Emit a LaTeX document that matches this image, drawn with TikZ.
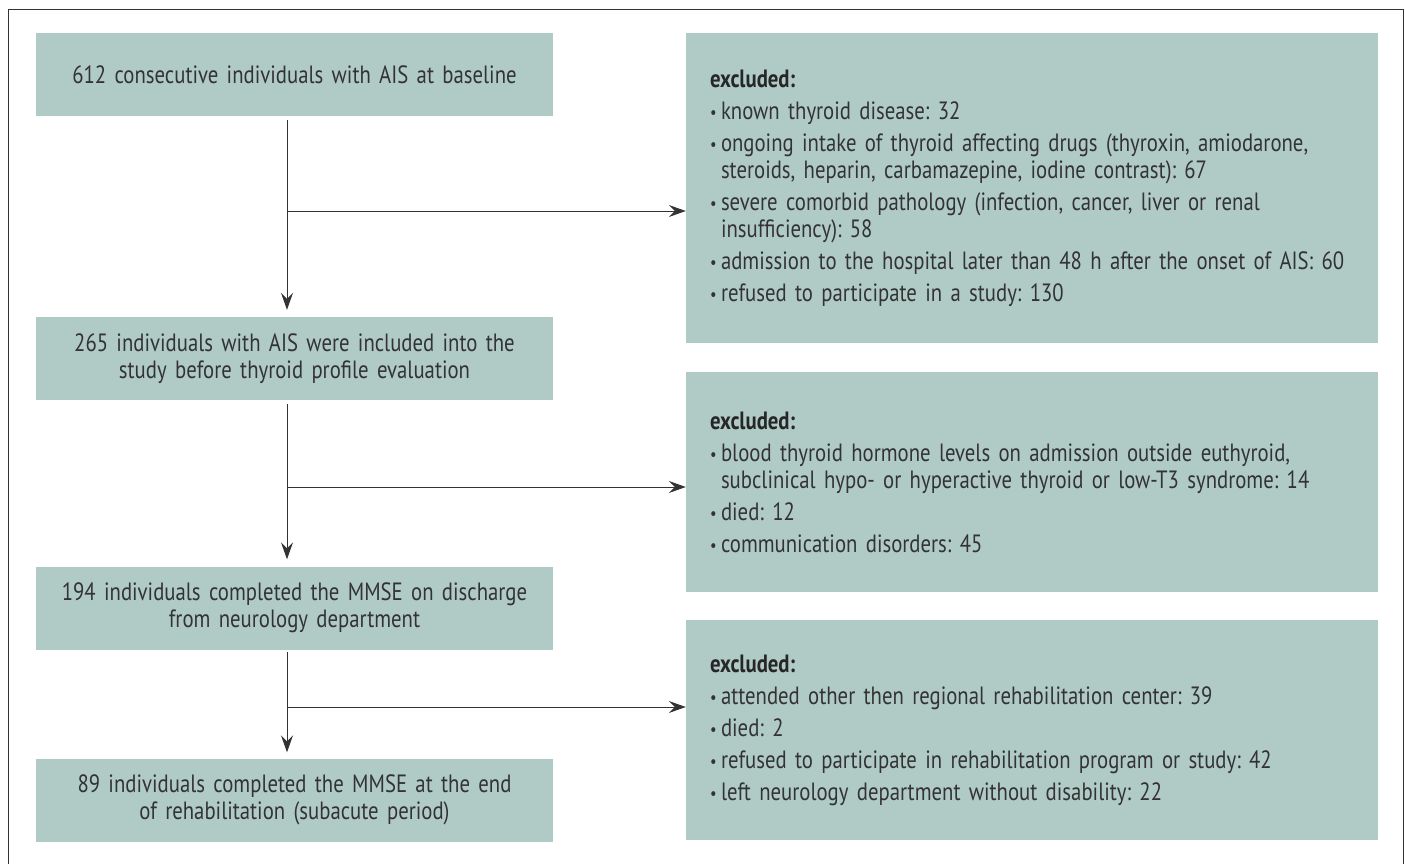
\documentclass[tikz,border=0pt]{standalone}
\usepackage{fontspec}
\setmainfont{PT Sans}[FakeStretch=0.83]
\usetikzlibrary{arrows.meta}
\definecolor{boxfill}{HTML}{B0CBC6}
\definecolor{inkgray}{HTML}{333333}
\newcommand{\exitem}[1]{\par\hangindent=11pt\hangafter=1\noindent\makebox[11pt][l]{\raisebox{1pt}{\scalebox{0.7}{\textbullet}}}#1}
\newcommand{\boxfont}{\fontsize{25}{27}\selectfont\frenchspacing}
\tikzset{
  stage/.style={fill=boxfill, minimum width=517pt, minimum height=83pt, inner sep=0pt,
    text width=500pt, align=center, text=inkgray, font=\boxfont},
  exclbox/.style={fill=boxfill, minimum width=692pt, inner xsep=24pt, inner ysep=0pt,
    text width=644pt, align=left, text=inkgray,
    font=\boxfont\setlength{\parskip}{5pt}},
  arr/.style={draw=inkgray, line width=1pt, -{Stealth[length=17pt,width=12pt,inset=6pt]}},
}
\begin{document}
\begin{tikzpicture}[x=1pt,y=-1pt]
    \useasboundingbox (0,0) rectangle (1405,864);
    \draw[inkgray, line width=1pt] (8,866) -- (8,10) -- (1403,10) -- (1403,866);

    \node[stage] (b1) at (294.5,74.5) {612 consecutive individuals with AIS at baseline};
    \node[stage] (b2) at (294.5,358.5) {265 individuals with AIS were included into the\\ study before thyroid profile evaluation};
    \node[stage] (b3) at (294.5,608) {194 individuals completed the MMSE on discharge\\ from neurology department};
    \node[stage] (b4) at (294.5,800) {89 individuals completed the MMSE at the end\\ of rehabilitation (subacute period)};

    \node[exclbox, minimum height=310pt] (r1) at (1032,188) {{\bfseries\color{black!85}excluded:}
        \exitem{known thyroid disease: 32}
        \exitem{ongoing intake of thyroid affecting drugs (thyroxin, amiodarone,\newline steroids, heparin, carbamazepine, iodine contrast): 67}
        \exitem{severe comorbid pathology (infection, cancer, liver or renal\newline insufficiency): 58}
        \exitem{admission to the hospital later than 48 h after the onset of AIS: 60}
        \exitem{refused to participate in a study: 130}};
    \node[exclbox, minimum height=220pt] (r2) at (1032,482) {{\bfseries\color{black!85}excluded:}
        \exitem{blood thyroid hormone levels on admission outside euthyroid,\newline subclinical hypo- or hyperactive thyroid or low-T3 syndrome: 14}
        \exitem{died: 12}
        \exitem{communication disorders: 45}};
    \node[exclbox, minimum height=220pt] (r3) at (1032,730) {{\bfseries\color{black!85}excluded:}
        \exitem{attended other then regional rehabilitation center: 39}
        \exitem{died: 2}
        \exitem{refused to participate in rehabilitation program or study: 42}
        \exitem{left neurology department without disability: 22}};

    \coordinate (spine) at (287,0);
    \coordinate (j1) at (287,211);
    \coordinate (j2) at (287,487);
    \coordinate (j3) at (287,707);

    \draw[arr, shorten <=4pt, shorten >=7pt] (b1.south -| spine) -- (b2.north -| spine);
    \draw[arr, shorten <=4pt, shorten >=7pt] (b2.south -| spine) -- (b3.north -| spine);
    \draw[arr, shorten <=2pt, shorten >=6pt] (b3.south -| spine) -- (b4.north -| spine);
    \draw[arr] (j1) -- (j1 -| r1.west);
    \draw[arr] (j2) -- (j2 -| r2.west);
    \draw[arr] (j3) -- (j3 -| r3.west);
\end{tikzpicture}
\end{document}
